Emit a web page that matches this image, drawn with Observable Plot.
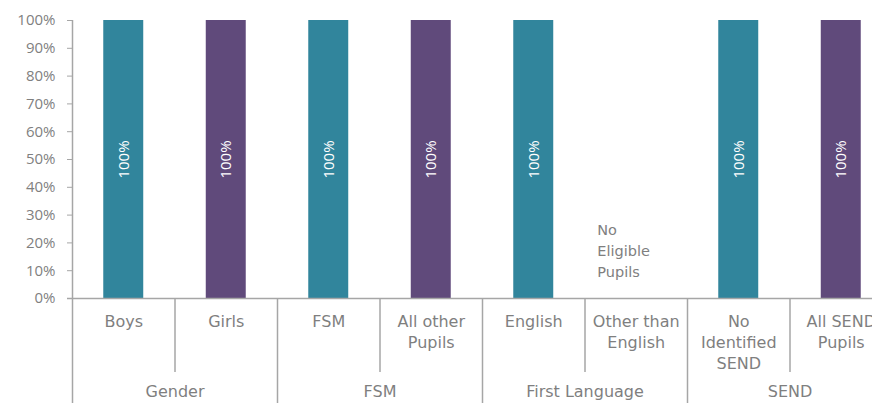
<!DOCTYPE html>
<html><head><meta charset="utf-8">
<script src="https://cdn.jsdelivr.net/npm/d3@7"></script>
<script src="https://cdn.jsdelivr.net/npm/@observablehq/plot@0.6"></script>
<style>
html,body{margin:0;padding:0;background:#fff;overflow:hidden;width:872px;height:403px}
#chart svg{overflow:hidden}
</style>
</head><body><div id="chart"></div>
<script>
const categories = ["Boys", "Girls", "FSM", "All other\nPupils", "English", "Other than\nEnglish", "No\nIdentified\nSEND", "All SEND\nPupils"];
const groupOf = ["Gender", "Gender", "FSM", "FSM", "First Language", "First Language", "SEND", "SEND"];
const values = [1, 1, 1, 1, 1, null, 1, 1];
const seriesKey = ["first", "second", "first", "second", "first", "second", "first", "second"];
const groupNames = ["Gender", "FSM", "First Language", "SEND"];
const noteCategory = "Other than\nEnglish";
const noteText = "No\nEligible\nPupils";
const noteY = 0.177;
const yTicks = [0, 0.1, 0.2, 0.3, 0.4, 0.5, 0.6, 0.7, 0.8, 0.9, 1];

const W = 872, H = 403;
const xRange = [72, 892];
const step = (xRange[1] - xRange[0]) / categories.length;
const gray = "#a6a6a6";
const textGray = "#7f7f7f";
const labelFont = "'DejaVu Sans', Tahoma, sans-serif";

const rows = categories.map((c, i) => ({cat: c, group: groupOf[i], value: values[i], key: seriesKey[i], idx: i}));
const bars = rows.filter(d => d.value != null);
const groupFirst = groupNames.map(g => rows.find(r => r.group === g).cat);
const shortSeps = rows.filter(r => r.idx > 0 && r.group === rows[r.idx - 1].group);
const longSeps = rows.filter(r => r.idx === 0 || r.group !== rows[r.idx - 1].group);

const chart = Plot.plot({
  width: W, height: H,
  marginTop: 20, marginBottom: 105, marginLeft: 72, marginRight: 0,
  style: {fontFamily: labelFont, background: "#fff", overflow: "hidden"},
  x: {type: "band", domain: categories, range: xRange, paddingInner: 0.61, paddingOuter: 0.305, round: false, axis: null},
  y: {domain: [0, 1], axis: null},
  color: {domain: ["first", "second"], range: ["#31859C", "#604A7B"]},
  marks: [
    Plot.barY(bars, {x: "cat", y: "value", fill: "key"}),
    Plot.text(bars, {x: "cat", y: d => d.value / 2, text: d => d3.format(".0%")(d.value), rotate: -90, fill: "#fff", fontSize: 15, fontFamily: "'Open Sans', sans-serif"}),
    Plot.text([noteText], {x: () => noteCategory, y: () => noteY, text: d => d, textAnchor: "start", dx: -39, fill: textGray, fontSize: 14.5, lineHeight: 1.45}),
    Plot.axisY({ticks: yTicks, tickFormat: d3.format(".0%"), label: null, tickSize: 5, tickPadding: 12, fontSize: 15, fontFamily: "'Open Sans', sans-serif", stroke: gray, fill: textGray}),
    Plot.ruleY([0], {stroke: gray, strokeWidth: 1.5, insetLeft: -5}),
    Plot.ruleX(rows.slice(0, 1), {x: "cat", y1: () => 0, y2: () => 1, dx: -step / 2, stroke: gray, strokeWidth: 1.5}),
    Plot.ruleX(shortSeps, {x: "cat", y1: () => 0, y2: () => 0, insetBottom: -74, dx: -step / 2, stroke: gray, strokeWidth: 1.5}),
    Plot.ruleX(longSeps, {x: "cat", y1: () => 0, y2: () => 0, insetBottom: -110, dx: -step / 2, stroke: gray, strokeWidth: 1.5}),
    Plot.text(rows, {x: "cat", y: () => 0, text: "cat", lineAnchor: "top", dy: 13, fill: textGray, fontSize: 16, lineHeight: 1.32}),
    Plot.text(groupNames, {x: (d, i) => groupFirst[i], y: () => 0, text: d => d, lineAnchor: "top", dy: 87, dx: step / 2, fill: textGray, fontSize: 16})
  ]
});
document.getElementById("chart").appendChild(chart);
</script>
</body></html>
